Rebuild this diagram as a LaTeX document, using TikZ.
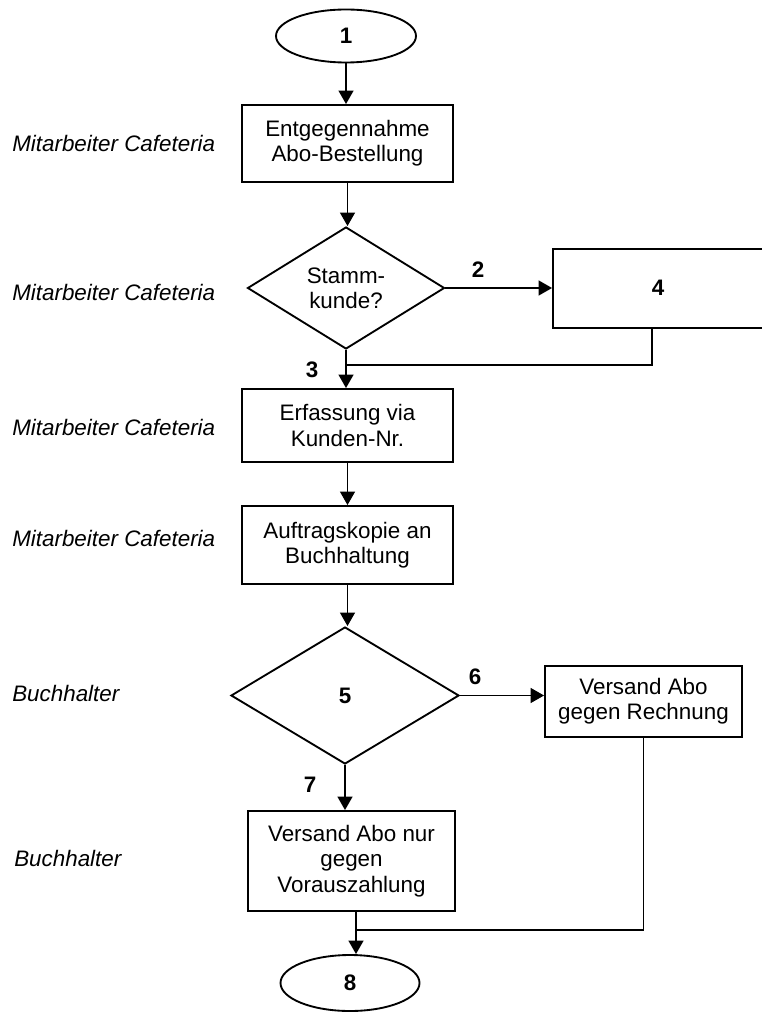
\documentclass[tikz,border=0pt]{standalone}
\usepackage{fontspec}
\setmainfont{Liberation Sans}
\usetikzlibrary{shapes.geometric,arrows.meta}
\begin{document}
\begin{tikzpicture}[x=0.75pt,y=-0.75pt,
  every node/.style={font=\fontsize{16.8pt}{19pt}\selectfont, inner sep=0pt},
  box/.style={draw, line width=1.4pt, rectangle, align=center},
  oval/.style={draw, line width=1.4pt, ellipse, font=\fontsize{16.8pt}{19pt}\selectfont\bfseries},
  dia/.style={draw, line width=1.4pt, diamond, align=center},
  role/.style={anchor=west, font=\fontsize{16.8pt}{19pt}\selectfont\itshape},
  num/.style={font=\fontsize{16.8pt}{19pt}\selectfont\bfseries},
  arr/.style={line width=1.4pt, -{Triangle[length=10pt,width=11pt]}},
  ln/.style={line width=1.4pt}]
\useasboundingbox (0,0) rectangle (762,1012);
\clip (0,0) rectangle (762,1012);

\node[oval, minimum width=105pt, minimum height=39.75pt] (e1) at (346,36) {1};
\node[box, minimum width=158.25pt, minimum height=57.75pt] (b1) at (347.5,143.5) {Entgegennahme\\Abo-Bestellung};
\node[dia, minimum width=147.75pt, minimum height=91.5pt] (d1) at (346,288) {Stamm-\\kunde?};
\node[box, minimum width=168pt, minimum height=59.25pt] (b4) at (665,288.5) {};
\node[num] (n4) at (658,288) {4};
\node[box, minimum width=158.25pt, minimum height=54.75pt] (b2) at (347.5,425.5) {Erfassung via\\Kunden-Nr.};
\node[box, minimum width=158.25pt, minimum height=58.5pt] (b3) at (347.5,545) {Auftragskopie an\\Buchhaltung};
\node[dia, minimum width=171pt, minimum height=102.75pt] (d2) at (345,695.5) {};
\node[num] (n5) at (d2) {5};
\node[box, minimum width=147.75pt, minimum height=53.25pt] (b6) at (643.5,701.5) {Versand Abo\\gegen Rechnung};
\node[box, minimum width=155.25pt, minimum height=75pt] (b7) at (351.5,861) {Versand Abo nur\\gegen\\Vorauszahlung};
\node[oval, minimum width=104.25pt, minimum height=42pt] (e8) at (350,983) {8};

\node[num] (l2) at (478,270) {2};
\node[num] (l3) at (312,370) {3};
\node[num] (l6) at (475,677) {6};
\node[num] (l7) at (310,785) {7};

\node[role] (r1) at (12,143) {Mitarbeiter Cafeteria};
\node[role] (r2) at (12,292) {Mitarbeiter Cafeteria};
\node[role] (r3) at (12,427) {Mitarbeiter Cafeteria};
\node[role] (r4) at (12,538) {Mitarbeiter Cafeteria};
\node[role] (r5) at (12,693) {Buchhalter};
\node[role] (r6) at (14,858) {Buchhalter};

\coordinate (j1) at (346,365);
\coordinate (j2) at (356,930);
\coordinate (c4) at (652,328);

\draw[arr] (e1.south) -- (e1.south |- b1.north);
\draw[arr] (b1.south) -- (b1.south |- d1.north);
\draw[arr] (d1.east) -- (d1.east -| b4.west);
\draw[arr] (d1.south) -- (d1.south |- b2.north);
\draw[ln] (c4 |- b4.south) |- (j1);
\draw[arr] (b2.south) -- (b2.south |- b3.north);
\draw[arr] (b3.south) -- (b3.south |- d2.north);
\draw[arr] (d2.east) -- (d2.east -| b6.west);
\draw[arr] (d2.south) -- (d2.south |- b7.north);
\draw[ln] (b6.south) |- (j2);
\draw[arr] (b7.south -| j2) -- (e8.north -| j2);
\end{tikzpicture}
\end{document}
